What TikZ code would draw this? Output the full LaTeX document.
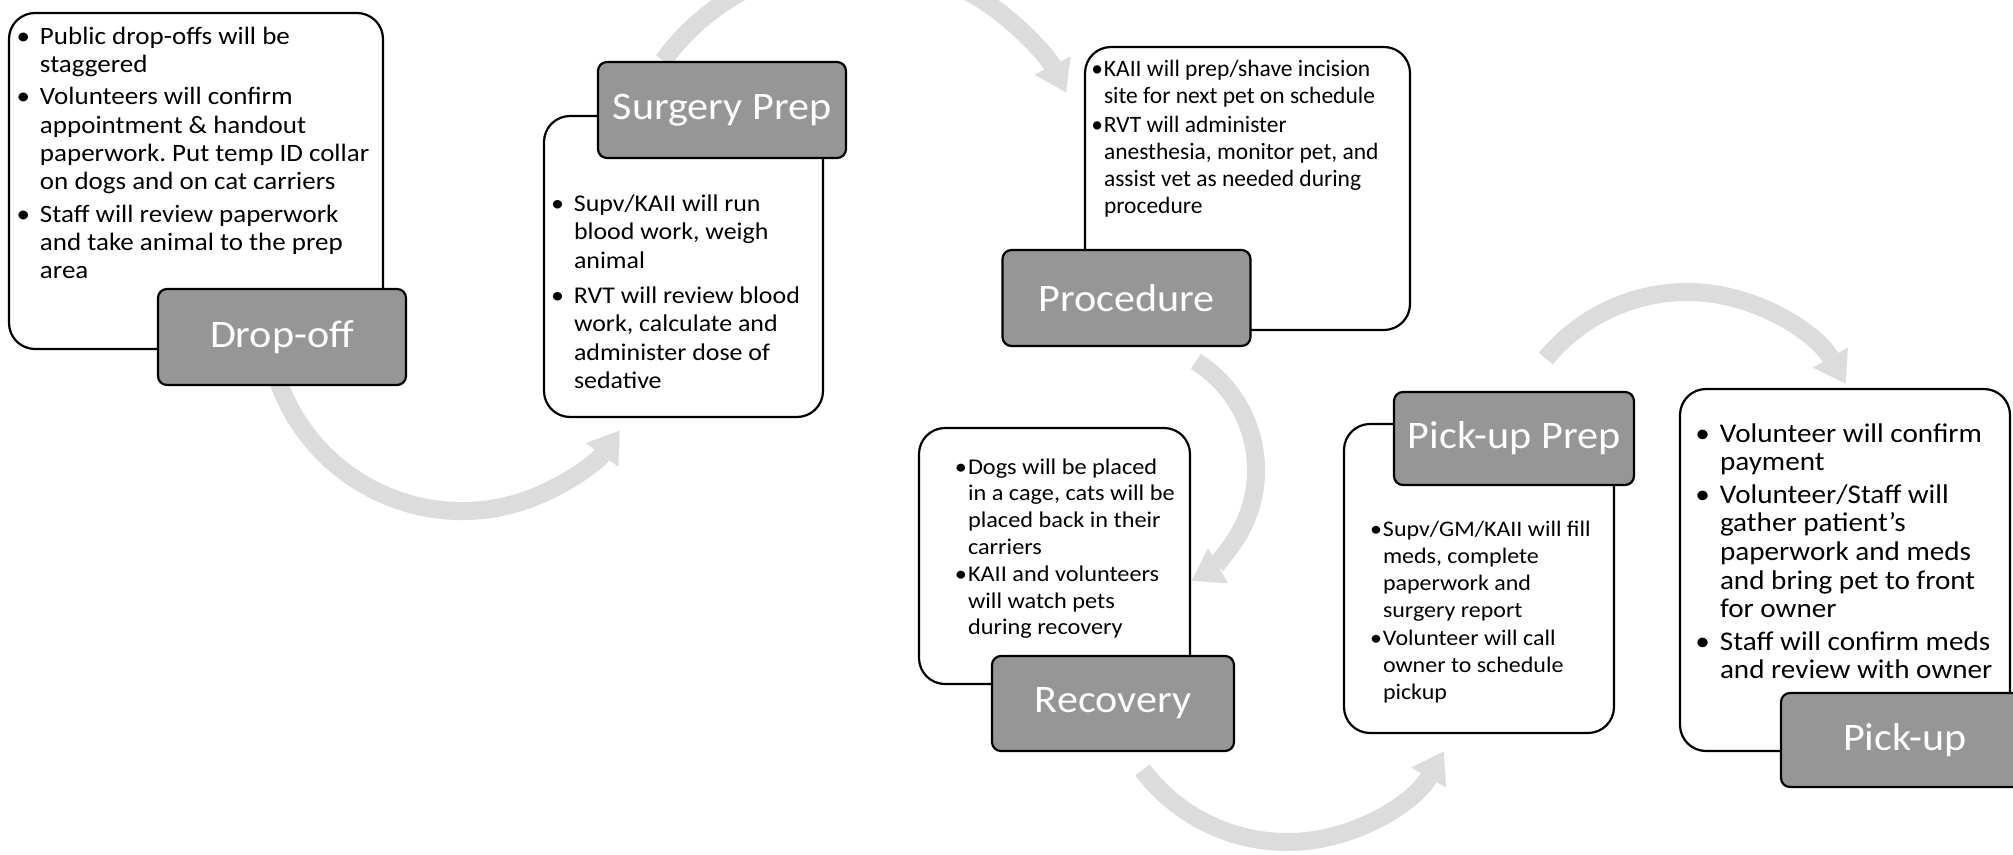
\documentclass[tikz,border=0pt]{standalone}
\usepackage{fontspec}
\setmainfont{Carlito}
\newfontfamily\stretchfont{Carlito}[FakeStretch=1.08]
\newfontfamily\plainfont{Carlito}
\usetikzlibrary{arrows.meta}
\definecolor{arrowgray}{RGB}{220,220,220}
\definecolor{titlefill}{RGB}{150,150,150}
\newcommand\blist[1]{\begin{tabular}[t]{@{}l@{}}#1\end{tabular}}
\newcommand\bb{\llap{\textbullet\hspace{10pt}}}
\newcommand\bt{\llap{\textbullet\hspace{1pt}}}
\frenchspacing
\begin{document}
\begin{tikzpicture}[x=1pt,y=-1pt,
  infobox/.style={draw=black, line width=2.2pt, fill=white, rounded corners=26pt, inner sep=0pt},
  titlebox/.style={draw=black, line width=2.2pt, fill=titlefill, rounded corners=9pt, inner sep=0pt,
    minimum width=248pt, minimum height=96pt, text=white,
    font=\stretchfont\fontsize{39}{42}\selectfont},
  bodytext/.style={anchor=base west, inner sep=0pt, outer sep=0pt},
  flow/.style={draw=arrowgray, line width=18pt,
    -{Triangle[width=40pt,length=30pt,line width=0.1pt]}}]
\useasboundingbox (0,0) rectangle (2013,854);
\fill[white] (0,0) rectangle (2013,854);
\clip (0,0) rectangle (2013,854);

% arc centres of the curved flow arrows
\coordinate (c1) at (462,316);
\coordinate (c2) at (855,200);
\coordinate (c3) at (1128,470);
\coordinate (c4) at (1287,661);
\coordinate (c5) at (1687,475);

\draw[flow] (c1) ++(160:195) arc[start angle=160, end angle=36, radius=195];
\draw[flow] (c2) ++(216:237) arc[start angle=216, end angle=333, radius=237];
\draw[flow] (c3) ++(-58:128) arc[start angle=-58, end angle=60, radius=128];
\draw[flow] (c4) ++(143:181) arc[start angle=143, end angle=30, radius=181];
\draw[flow] (c5) ++(219.5:183) arc[start angle=219.5, end angle=330, radius=183];

% Drop-off
\node[infobox, minimum width=374pt, minimum height=336pt] (dropbody) at (196,181) {};
\node[bodytext, font=\stretchfont\fontsize{25}{28.2}\selectfont] (droptext) at (40,44) {\blist{%
\bb Public drop-offs will be\\
staggered\\[4.5pt]
\bb Volunteers will confirm\\
appointment \& handout\\
paperwork. Put temp ID collar\\
on dogs and on cat carriers\\[4.5pt]
\bb Staff will review paperwork\\
and take animal to the prep\\
area}};
\node[titlebox] (droptitle) at (282,337) {Drop-off};

% Surgery Prep
\node[infobox, minimum width=279pt, minimum height=301pt] (surgbody) at (683.5,266.5) {};
\node[bodytext, font=\stretchfont\fontsize{24}{28.5}\selectfont] (surgtext) at (574,211) {\blist{%
\bb Supv/KAII will run\\
blood work, weigh\\
animal\\[6.5pt]
\bb RVT will review blood\\
work, calculate and\\
administer dose of\\
sedative}};
\node[titlebox] (surgtitle) at (722,110) {Surgery Prep};

% Procedure
\node[infobox, minimum width=325pt, minimum height=283pt] (procbody) at (1247.5,188.5) {};
\node[bodytext, font=\plainfont\fontsize{23.5}{27}\selectfont] (proctext) at (1104,76) {\blist{%
\bt KAII will prep/shave incision\\
site for next pet on schedule\\[2pt]
\bt RVT will administer\\
anesthesia, monitor pet, and\\
assist vet as needed during\\
procedure}};
\node[titlebox] (proctitle) at (1126.5,298) {Procedure};

% Recovery
\node[infobox, minimum width=271pt, minimum height=256pt] (recbody) at (1054.5,556) {};
\node[bodytext, font=\stretchfont\fontsize{22.5}{26.8}\selectfont] (rectext) at (968,474) {\blist{%
\bt Dogs will be placed\\
in a cage, cats will be\\
placed back in their\\
carriers\\
\bt KAII and volunteers\\
will watch pets\\
during recovery}};
\node[titlebox, minimum width=242pt, minimum height=95pt] (rectitle) at (1113,703.5) {Recovery};

% Pick-up Prep
\node[infobox, minimum width=270pt, minimum height=309pt] (ppbody) at (1479,578.5) {};
\node[bodytext, font=\stretchfont\fontsize{22.2}{27.3}\selectfont] (pptext) at (1383,536) {\blist{%
\bt Supv/GM/KAII will fill\\
meds, complete\\
paperwork and\\
surgery report\\
\bt Volunteer will call\\
owner to schedule\\
pickup}};
\node[titlebox, minimum width=240pt, minimum height=93pt] (pptitle) at (1514,438.5) {Pick-up Prep};

% Pick-up
\node[infobox, minimum width=330pt, minimum height=362pt] (pubody) at (1845,570) {};
\node[bodytext, font=\stretchfont\fontsize{27}{28.6}\selectfont] (putext) at (1720,442) {\blist{%
\bb Volunteer will confirm\\
payment\\[4pt]
\bb Volunteer/Staff will\\
gather patient’s\\
paperwork and meds\\
and bring pet to front\\
for owner\\[4pt]
\bb Staff will confirm meds\\
and review with owner}};
\node[titlebox, minimum height=94pt] (putitle) at (1905,740) {Pick-up};
\end{tikzpicture}
\end{document}
